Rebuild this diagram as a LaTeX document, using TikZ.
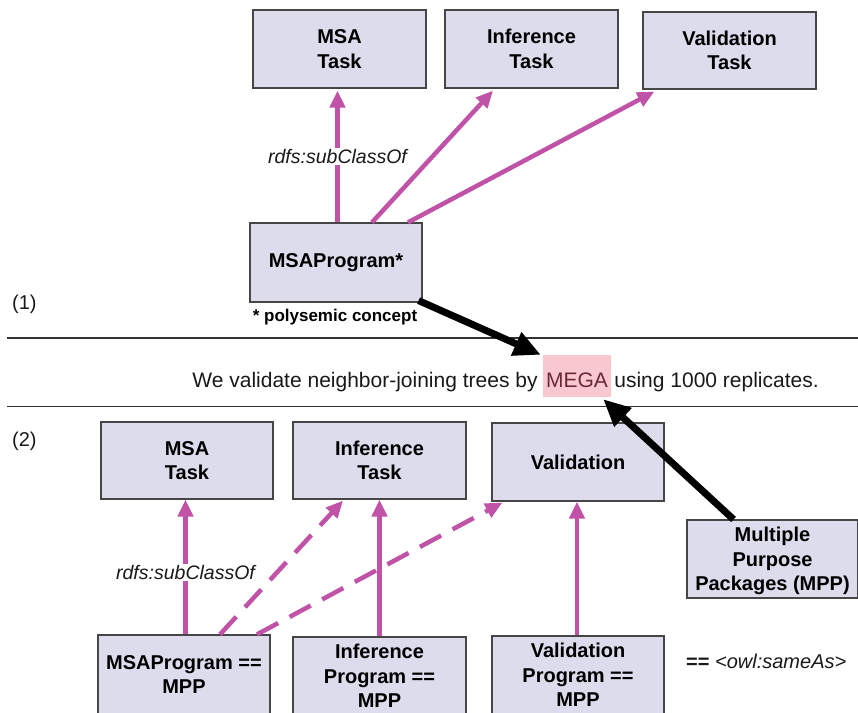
\documentclass[tikz,border=0pt]{standalone}
\usepackage{fontspec}
\setmainfont{Liberation Sans}
\usetikzlibrary{arrows.meta}
\definecolor{boxfill}{RGB}{220,220,236}
\definecolor{boxline}{RGB}{70,70,70}
\definecolor{mag}{RGB}{192,82,168}
\definecolor{hl}{RGB}{249,200,206}
\definecolor{megatext}{RGB}{105,40,55}
\definecolor{txt}{RGB}{25,25,25}
\begin{document}
\begin{tikzpicture}[x=1pt,y=-1pt,
  box/.style={draw=boxline, fill=boxfill, line width=1.2pt, align=center, inner sep=0pt, text=black, font=\fontsize{20}{24.5}\selectfont\bfseries},
  subarr/.style={draw=mag, line width=4.5pt, -{Triangle[length=17pt,width=15pt]}},
  dasharr/.style={subarr, dash pattern=on 24pt off 13pt},
  refarr/.style={draw=black, line width=7pt, -{Triangle[length=27pt,width=24pt]}},
  lbl/.style={font=\fontsize{19.5}{23}\selectfont\itshape, fill=white, inner sep=1.5pt, text=txt},
  plain/.style={font=\fontsize{20}{24}\selectfont, text=txt, inner sep=0pt},
  sentence/.style={font=\fontsize{21}{25}\selectfont, text=txt, inner sep=0pt},
  sepline/.style={draw=black!80, line width=1.2pt}
]
\fill[white] (0,0) rectangle (858,712);
\clip (0,0) rectangle (858,712);

% section (1)
\node[box, minimum width=173pt, minimum height=78pt] (t1) at (339.5,49) {MSA\\Task};
\node[box, minimum width=173pt, minimum height=78pt] (t2) at (531.5,49) {Inference\\Task};
\node[box, minimum width=173pt, minimum height=77pt] (t3) at (729.5,50.5) {Validation\\Task};
\node[box, minimum width=172pt, minimum height=79pt] (p) at (336,262.5) {MSAProgram*};
\node[font=\fontsize{17}{20}\selectfont\bfseries, text=black, inner sep=0pt, anchor=base] (poly) at (335,321) {* polysemic concept};
\node[plain, anchor=base west] (n1) at (12,309) {(1)};

% separators
\draw[sepline] (7,338) -- (858,338);
\draw[sepline] (7,406.5) -- (858,406.5);

% sentence
\node[font=\fontsize{21}{25}\selectfont, text=megatext, fill=hl, inner xsep=0pt, inner ysep=0pt,
      minimum width=68pt, text height=32pt, text depth=10pt] (mega) at (577,376) {MEGA};
\node[sentence, anchor=base east] (sl) at ([xshift=-5pt]mega.base west) {We validate neighbor-joining trees by};
\node[sentence, anchor=base west] (sr) at ([xshift=3pt]mega.base east) {using 1000 replicates.};

% section (2)
\node[plain, anchor=base west] (n2) at (12,446) {(2)};
\node[box, minimum width=172pt, minimum height=77pt] (b1) at (187,460.5) {MSA\\Task};
\node[box, minimum width=173pt, minimum height=77pt] (b2) at (379.5,460.5) {Inference\\Task};
\node[box, minimum width=172pt, minimum height=78pt] (b3) at (578,462) {Validation};
\node[box, minimum width=171pt, minimum height=78pt, text depth=-2pt] (mpp) at (772.5,559) {Multiple\\Purpose\\Packages (MPP)};
\node[box, minimum width=172pt, minimum height=79pt] (q1) at (184,674.5) {MSAProgram ==\\MPP};
\node[box, minimum width=173pt, minimum height=78pt] (q2) at (379.5,676) {Inference\\Program ==\\MPP};
\node[box, minimum width=172pt, minimum height=78pt] (q3) at (578,675) {Validation\\Program ==\\MPP};
\node[plain, anchor=base west] (same) at (686,668) {\textbf{==} \textit{<owl:sameAs>}};

% subclass arrows (1)
\draw[subarr] ([xshift=1.5pt]p.north) -- node[lbl]{rdfs:subClassOf} ([xshift=-2pt,yshift=-2pt]t1.south);
\draw[subarr] ([xshift=36pt]p.north) -- ([xshift=-38.5pt,yshift=-2pt]t2.south);
\draw[subarr] ([xshift=72pt]p.north) -- ([xshift=12pt,yshift=-2pt]t3.south west);

% subclass arrows (2)
\draw[subarr] ([xshift=1.5pt]q1.north) -- node[lbl,pos=0.46]{rdfs:subClassOf} ([xshift=-1.5pt]b1.south);
\draw[dasharr] ([xshift=36pt]q1.north) -- ([xshift=-36.5pt,yshift=-1pt]b2.south);
\draw[dasharr] ([xshift=73pt]q1.north) -- ([xshift=11pt,yshift=-1pt]b3.south west);
\draw[subarr] (q2.north) -- (b2.south);
\draw[subarr] ([xshift=-1pt]q3.north) -- ([xshift=-1pt]b3.south);

% reference arrows
\draw[refarr] ([xshift=-4pt,yshift=2pt]p.south east) -- ([xshift=-2pt]mega.north west);
\draw[refarr] ([xshift=-39pt]mpp.north) -- ([xshift=-8pt,yshift=-2pt]mega.south east);
\end{tikzpicture}
\end{document}
